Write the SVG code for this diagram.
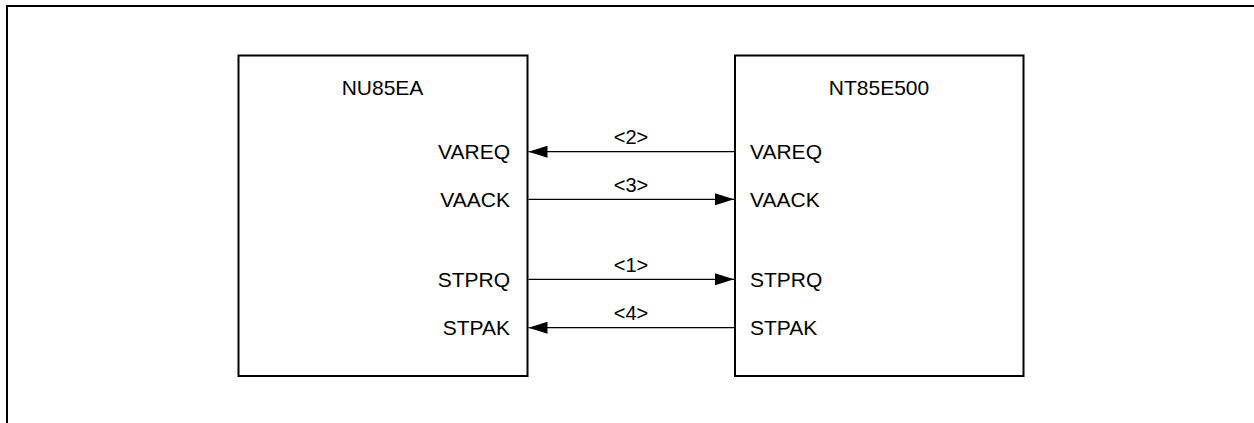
<svg xmlns="http://www.w3.org/2000/svg" width="1254" height="423" viewBox="0 0 1254 423">
<style>
.box{fill:#fff;stroke:#000;stroke-width:2}
.frame{fill:none;stroke:#000;stroke-width:2}
.t{font-family:"Liberation Sans",Arial,sans-serif;font-size:21px;fill:#000}
.lbl{font-family:"Liberation Sans",Arial,sans-serif;font-size:20px;fill:#000;text-anchor:middle}
.w{stroke:#000;stroke-width:1.2;fill:none}
.end{text-anchor:end}
.mid{text-anchor:middle}
</style>
<defs>
<marker id="ah" markerWidth="20" markerHeight="12" refX="19" refY="6" orient="auto" markerUnits="userSpaceOnUse">
<path d="M0,0 L19,6 L0,12 Z" fill="#000"/>
</marker>
</defs>
<rect width="1254" height="423" fill="#fff"/>
<path class="frame" d="M7,423 V6 H1254"/>
<g id="nu85ea">
<rect class="box" x="238.5" y="55.5" width="289" height="320.5"/>
<text class="t mid" x="382.5" y="95">NU85EA</text>
<text class="t end" x="510" y="159">VAREQ</text>
<text class="t end" x="510" y="207">VAACK</text>
<text class="t end" x="510" y="287">STPRQ</text>
<text class="t end" x="510" y="335">STPAK</text>
</g>
<g id="nt85e500">
<rect class="box" x="735" y="55.5" width="288.5" height="320.5"/>
<text class="t mid" x="879" y="95">NT85E500</text>
<text class="t" x="750" y="159">VAREQ</text>
<text class="t" x="750" y="207">VAACK</text>
<text class="t" x="750" y="287">STPRQ</text>
<text class="t" x="750" y="335">STPAK</text>
</g>
<g id="connectors">
<line class="w" x1="734" y1="151.7" x2="528.5" y2="151.7" marker-end="url(#ah)"/>
<text class="lbl" x="631" y="143.5">&lt;2&gt;</text>
<line class="w" x1="528.5" y1="199.3" x2="734" y2="199.3" marker-end="url(#ah)"/>
<text class="lbl" x="631" y="191.7">&lt;3&gt;</text>
<line class="w" x1="528.5" y1="279.3" x2="734" y2="279.3" marker-end="url(#ah)"/>
<text class="lbl" x="631" y="271.7">&lt;1&gt;</text>
<line class="w" x1="734" y1="327.7" x2="528.5" y2="327.7" marker-end="url(#ah)"/>
<text class="lbl" x="631" y="319.5">&lt;4&gt;</text>
</g>
</svg>
